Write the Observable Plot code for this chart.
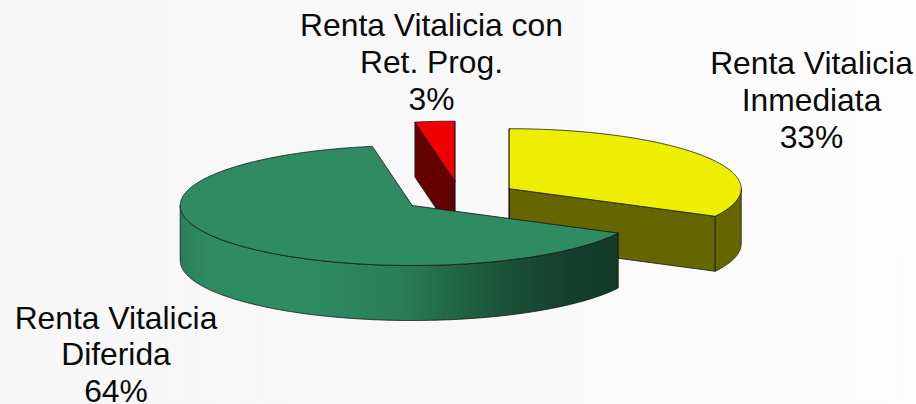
<!DOCTYPE html>
<html>
<head>
<meta charset="utf-8">
<script src="https://cdn.jsdelivr.net/npm/d3@7"></script>
<script src="https://cdn.jsdelivr.net/npm/@observablehq/plot@0.6"></script>
<style>
html,body{margin:0;padding:0;width:916px;height:404px;overflow:hidden;background:linear-gradient(90deg,#f7f7f7 0%,#f8f8f8 50%,#fdfdfd 100%);}
svg{display:block;}
</style>
</head>
<body>
<div id="chart"></div>
<script>
// Data
const categories = ["Renta Vitalicia\nInmediata", "Renta Vitalicia\nDiferida", "Renta Vitalicia con\nRet. Prog."];
const shareLabels = ["33%", "64%", "3%"];
const sliceValues = [32.6, 64.65, 2.75];

// Appearance and layout
const topColors = ["#eeee00", "#2e8b62", "#f00000"];
const wallColors = ["#666600", "url(#greenWall)", "#640000"];
const cutColors = ["#666600", "#2e8b62", "#640000"];
const centerX = [508.7, 411.7, 454.3];
const centerY = [188.2, 205, 180.7];
const rx = 232, ry = 60, depth = 55;
const labelX = [811, 115.5, 431];
const labelY = [98.8, 353, 60.8];
const gradientStops = [[0, "#2a7f58"], [0.06, "#2e8b62"], [0.3, "#2e8b62"], [0.5, "#2a7d58"], [0.62, "#226647"], [0.75, "#1a5039"], [0.88, "#153f2d"], [1, "#133a29"]];

const total = d3.sum(sliceValues);
const ends = d3.cumsum(sliceValues).map(v => v / total * 360);
const starts = [0, ...ends.slice(0, -1)];
const rad = d => d * Math.PI / 180;
const px = (i, a) => centerX[i] + rx * Math.sin(rad(a));
const py = (i, a, drop = 0) => centerY[i] - ry * Math.cos(rad(a)) + drop;
const arc = (i, a, b, drop = 0) => {
  const n = Math.max(2, Math.ceil(Math.abs(b - a) * 2));
  return d3.range(n + 1).map(k => {
    const t = a + (b - a) * k / n;
    return {x: px(i, t), y: py(i, t, drop)};
  });
};
const topFace = i => [{x: centerX[i], y: centerY[i]}, ...arc(i, starts[i], ends[i]), {x: centerX[i], y: centerY[i]}];
const outerWall = i => {
  const a = Math.max(starts[i], 90), b = Math.min(ends[i], 270);
  if (b <= a) return null;
  const up = arc(i, a, b), down = arc(i, b, a, depth);
  return [...up, ...down, up[0]];
};
const cutWall = (i, a) => {
  const p = {x: px(i, a), y: py(i, a)};
  const c = {x: centerX[i], y: centerY[i]};
  return [c, p, {x: p.x, y: p.y + depth}, {x: c.x, y: c.y + depth}, c];
};
const shape = (pts, fill) => Plot.line(pts, {x: "x", y: "y", fill, stroke: "#151515", strokeWidth: 0.8, strokeLinejoin: "round", curve: "linear"});

const defs = () => {
  const ns = "http://www.w3.org/2000/svg";
  const d = document.createElementNS(ns, "defs");
  const g = document.createElementNS(ns, "linearGradient");
  g.setAttribute("id", "greenWall");
  g.setAttribute("gradientUnits", "userSpaceOnUse");
  g.setAttribute("x1", centerX[1] - rx); g.setAttribute("x2", px(1, ends[0])); g.setAttribute("y1", 0); g.setAttribute("y2", 0);
  for (const [o, c] of gradientStops) {
    const s = document.createElementNS(ns, "stop");
    s.setAttribute("offset", o); s.setAttribute("stop-color", c);
    g.appendChild(s);
  }
  d.appendChild(g);
  return d;
};

const marks = [defs];
marks.push(shape(cutWall(2, starts[2]), cutColors[2]));
marks.push(shape(cutWall(2, ends[2]), cutColors[2]));
marks.push(shape(topFace(2), topColors[2]));
marks.push(shape(cutWall(0, ends[0]), cutColors[0]));
marks.push(shape(cutWall(0, starts[0]), cutColors[0]));
marks.push(shape(outerWall(0), wallColors[0]));
marks.push(shape(topFace(0), topColors[0]));
marks.push(shape(outerWall(1), wallColors[1]));
marks.push(shape(topFace(1), topColors[1]));
marks.push(Plot.text(categories.map((c, i) => ({t: c + "\n" + shareLabels[i], x: labelX[i], y: labelY[i]})), {
  x: "x", y: "y", text: "t", fontSize: 31.8, lineHeight: 1.15, fill: "#0a0a0a", textAnchor: "middle", lineAnchor: "middle", fontFamily: "Liberation Sans"
}));

const chart = Plot.plot({
  width: 916, height: 404,
  marginLeft: 0, marginRight: 0, marginTop: 0, marginBottom: 0,
  x: {domain: [0, 916], range: [0, 916], axis: null},
  y: {domain: [0, 404], range: [0, 404], axis: null},
  style: {background: "transparent"},
  marks
});
document.getElementById("chart").appendChild(chart);
</script>
</body>
</html>
